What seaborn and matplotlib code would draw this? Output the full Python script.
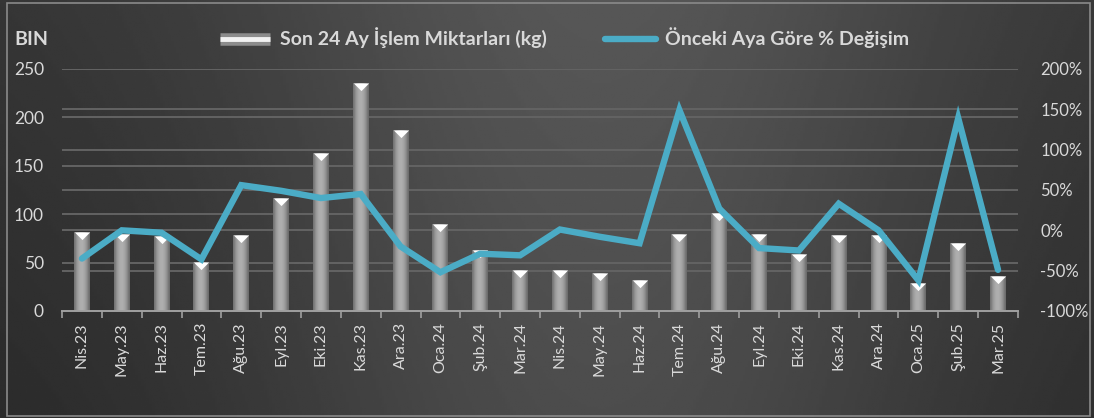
import numpy as np
import pandas as pd
import seaborn as sns
import matplotlib.pyplot as plt
from matplotlib.path import Path
from matplotlib.lines import Line2D
from matplotlib.patches import Rectangle

months = ['Nis.23', 'May.23', 'Haz.23', 'Tem.23', 'Ağu.23', 'Eyl.23', 'Eki.23', 'Kas.23',
          'Ara.23', 'Oca.24', 'Şub.24', 'Mar.24', 'Nis.24', 'May.24', 'Haz.24', 'Tem.24',
          'Ağu.24', 'Eyl.24', 'Eki.24', 'Kas.24', 'Ara.24', 'Oca.25', 'Şub.25', 'Mar.25']
amounts = [82, 80, 77, 51, 78, 117, 163, 236, 187, 90, 63, 42,
           42, 39, 32, 80, 101, 80, 59, 79, 78, 29, 70, 36]
pct_change = [-35, 0, -3, -36, 56, 49, 40, 45, -20, -52, -29, -31,
              1, -8, -16, 149, 27, -22, -25, 33, 0, -62, 139, -49]

left_ticks = list(range(0, 251, 50))
right_ticks = list(range(-100, 201, 50))

bar_label = 'Son 24 Ay İşlem Miktarları (kg)'
line_label = 'Önceki Aya Göre % Değişim'

df = pd.DataFrame({'ay': months, 'miktar': amounts, 'degisim': pct_change})
df['pos'] = np.arange(len(df))

sns.set_theme(style='dark')
plt.rcParams['font.family'] = ['Lato', 'DejaVu Sans']
txt = '#d9d9d9'
aqua = '#4bacc6'
gridc = '#636363'

fig = plt.figure(figsize=(10.94, 4.18), dpi=100)

# dark gradient background
bg = fig.add_axes([0, 0, 1, 1], zorder=-10)
xx, yy = np.meshgrid(np.linspace(0, 1, 400), np.linspace(0, 1, 200))
shade = 0.16 + 0.14 * np.exp(-((xx - 0.55) ** 2) / 0.12) + 0.04 * yy
bg.imshow(shade, cmap='gray', vmin=0, vmax=1, aspect='auto', extent=[0, 1, 0, 1], origin='lower')
bg.add_patch(Rectangle((0.006, 0.004), 0.99, 0.99, fill=False, edgecolor='#8a8a8a', lw=1.2))
bg.set_axis_off()

rect = [0.0567, 0.256, 0.8738, 0.579]

# right axis (percent) underneath: ticks and its own grid
ax2 = fig.add_axes(rect)
ax2.patch.set_alpha(0)
ax2.set_xlim(-0.5, len(months) - 0.5)
ax2.set_ylim(-100, 200)
ax2.set_yticks(right_ticks)
ax2.set_yticklabels([f'{v}%' for v in right_ticks])
ax2.yaxis.tick_right()
ax2.set_xticks([])
ax2.tick_params(axis='y', colors=txt, labelsize=12, length=0, pad=16)
for v in right_ticks[1:]:
    ax2.axhline(v, color=gridc, lw=1.4, zorder=0)
for s in ax2.spines.values():
    s.set_visible(False)

ax = fig.add_axes(rect)
ax.patch.set_alpha(0)

sns.barplot(data=df, x='ay', y='miktar', color='#9a9a9a', width=0.4, ax=ax,
            saturation=1, linewidth=0, zorder=3)

# cylinder-like shading on bars
grad = np.tile(np.array([0.45, 0.58, 0.64, 0.68, 0.69, 0.67, 0.62, 0.55, 0.42]), (2, 1))
for p in ax.patches:
    x0, y0, w, h = p.get_x(), p.get_y(), p.get_width(), p.get_height()
    im = ax.imshow(grad, cmap='gray', vmin=0, vmax=1, aspect='auto',
                   extent=[x0, x0 + w, y0, y0 + h], zorder=3.5, interpolation='bicubic')
    im.set_clip_path(p)

tri = Path([(-1, 0), (1, 0), (0, -1.0), (-1, 0)], [Path.MOVETO, Path.LINETO, Path.LINETO, Path.CLOSEPOLY])
ax.scatter(df['pos'], df['miktar'], marker=tri, s=120, color='white', zorder=4, linewidths=0)

ax.set_xlim(-0.5, len(months) - 0.5)
ax.set_ylim(0, 250)
ax.set_yticks(left_ticks)
ax.set_xlabel('')
ax.set_ylabel('')
ax.tick_params(axis='y', colors=txt, labelsize=12.5, length=0, pad=13)
ax.tick_params(axis='x', colors=txt, labelsize=11.5, length=0, pad=8, rotation=90)
ax.set_xticks(np.arange(-0.5, len(months), 1), minor=True)
ax.tick_params(axis='x', which='minor', length=5, color='#a0a0a0', width=1.2, bottom=True)
for v in left_ticks[1:]:
    ax.axhline(v, color=gridc, lw=1.4, zorder=0)
for s in ['top', 'right', 'left']:
    ax.spines[s].set_visible(False)
ax.spines['bottom'].set_color('#a0a0a0')
ax.spines['bottom'].set_linewidth(1.4)
ax.spines['bottom'].set_zorder(6)

# percent line on top of bars
ax3 = fig.add_axes(rect)
ax3.patch.set_visible(False)
sns.lineplot(data=df, x='pos', y='degisim', color=aqua, lw=4.6, ax=ax3,
             solid_capstyle='round', solid_joinstyle='miter')
ax3.set_ylim(-100, 200)
ax3.set_xlim(-0.5, len(months) - 0.5)
ax3.set_axis_off()

fig.text(0.013, 0.905, 'BIN', color=txt, fontsize=14, fontweight='bold', va='center')

handles = [(Line2D([0], [0], color='#8c8c8c', lw=9, solid_capstyle='butt'),
            Line2D([0], [0], color='#f2f2f2', lw=3.5, solid_capstyle='butt')),
           Line2D([0], [0], color=aqua, lw=4.6, solid_capstyle='round')]
leg = fig.legend(handles, [bar_label, line_label], loc='center', ncol=2,
                 bbox_to_anchor=(0.516, 0.909), frameon=False, handlelength=2.6,
                 columnspacing=3.0, handletextpad=0.5,
                 prop={'weight': 'bold', 'size': 14})
for t in leg.get_texts():
    t.set_color(txt)

fig.savefig('out.png', dpi=100)
